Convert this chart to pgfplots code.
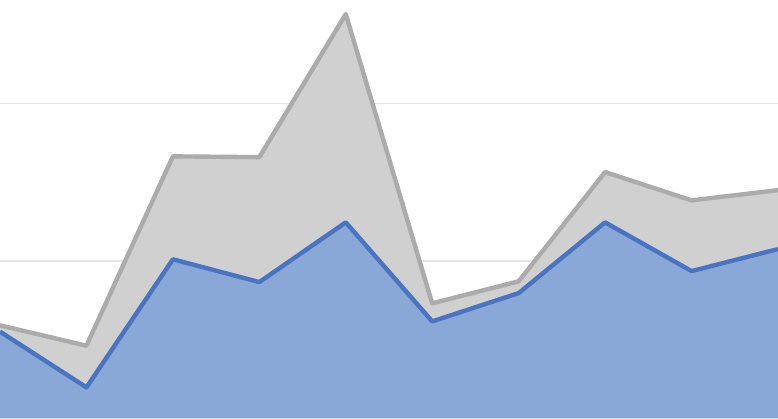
\documentclass[border=0pt]{standalone}
\usepackage{pgfplots}
\pgfplotsset{compat=1.18}
\definecolor{grayfill}{HTML}{D0D0D0}
\definecolor{grayline}{HTML}{ABABAB}
\definecolor{bluefill}{HTML}{89A8D7}
\definecolor{blueline}{HTML}{4A74C0}
\definecolor{gridgray}{HTML}{E6E6E6}
\begin{document}
\begin{tikzpicture}
\begin{axis}[
    scale only axis,
    width=389pt, height=209.5pt,
    xmin=0, xmax=9,
    ymin=-0.06, ymax=26.6,
    axis line style={draw=none},
    tick style={draw=none},
    xtick=\empty,
    ytick={0,10,20},
    yticklabels={},
    ymajorgrids,
    grid style={gridgray, line width=0.75pt},
]
\coordinate (sw) at (rel axis cs:0,0);
\coordinate (ne) at (rel axis cs:1,1);
% grey series
\addplot[draw=none, fill=grayfill] coordinates {
    (0,5.9) (1,4.6) (2,16.65) (3,16.6) (4,25.7) (5,7.3) (6,8.7) (7,15.65) (8,13.85) (9,14.5)
} \closedcycle;
% blue series
\addplot[draw=none, fill=bluefill] coordinates {
    (0,5.5) (1,1.95) (2,10.1) (3,8.65) (4,12.45) (5,6.15) (6,7.95) (7,12.45) (8,9.35) (9,10.75)
} \closedcycle;
\addplot[grayline, line width=2.2pt, line join=round] coordinates {
    (0,5.9) (1,4.6) (2,16.65) (3,16.6) (4,25.7) (5,7.3) (6,8.7) (7,15.65) (8,13.85) (9,14.5)
};
\addplot[blueline, line width=2.2pt, line join=round] coordinates {
    (0,5.5) (1,1.95) (2,10.1) (3,8.65) (4,12.45) (5,6.15) (6,7.95) (7,12.45) (8,9.35) (9,10.75)
};
\end{axis}
\pgfresetboundingbox
\path[use as bounding box] (sw) rectangle (ne);
\end{tikzpicture}
\end{document}
